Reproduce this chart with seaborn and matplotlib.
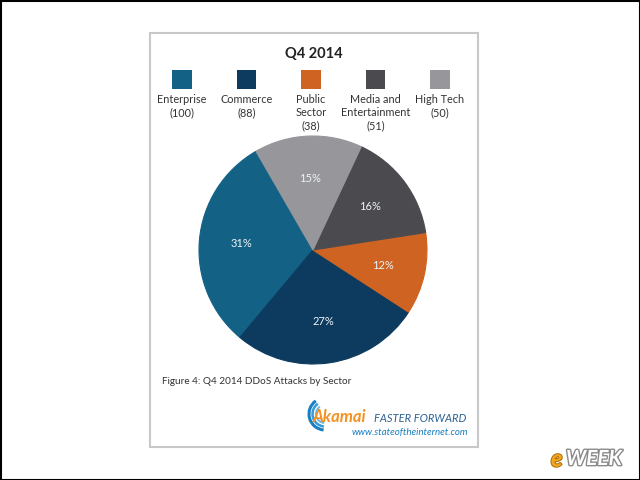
import numpy as np
import pandas as pd
import matplotlib
matplotlib.use("Agg")
import matplotlib.pyplot as plt
import seaborn as sns
from matplotlib.patches import Rectangle, Arc
import matplotlib.patheffects as pe

# data
sectors = ["Enterprise", "Commerce", "Public\nSector", "Media and\nEntertainment", "High Tech"]
attacks = [100, 88, 38, 51, 50]
colors = ["#146186", "#0c3b5f", "#cf6321", "#4b4b4f", "#97979b"]

df = pd.DataFrame({"sector": sectors, "attacks": attacks})

sns.set_theme(style="white")
plt.rcParams["font.family"] = ["Lato", "DejaVu Sans"]

fig = plt.figure(figsize=(6.4, 4.8), dpi=100)
fig.patch.set_facecolor("white")

# overlay in pixel coordinates for the card, titles and logos
bg = fig.add_axes([0, 0, 1, 1])
bg.set_xlim(0, 640)
bg.set_ylim(480, 0)
bg.axis("off")
bg.add_patch(Rectangle((0.5, 0.5), 639, 479, fill=False, ec="black", lw=1.5))
bg.add_patch(Rectangle((150, 32.5), 327.5, 414, fill=False, ec="#c8c8c8", lw=1.5))

bg.text(314, 54, "Q4 2014", ha="center", va="center", fontsize=10.5,
        fontweight="bold", color="#222222")

# pie
ax = fig.add_axes([199 / 640, 1 - 364 / 480, 228 / 640, 228 / 480])
wedges, texts, autotexts = ax.pie(
    df["attacks"], colors=colors, startangle=120, counterclock=True,
    autopct="%.0f%%", pctdistance=0.63,
    wedgeprops={"linewidth": 0.8},
    textprops={"color": "#eef3f6", "fontsize": 8},
)
for w, c in zip(wedges, colors):
    w.set_edgecolor(c)
ax.set_xlim(-1, 1)
ax.set_ylim(-1, 1)
ax.set_aspect("equal")

# legend row: square above multi-line label
lg = fig.add_axes([149.75 / 640, 1 - 130 / 480, 322.5 / 640, 60 / 480])
pos = np.arange(len(sectors))
sns.scatterplot(x=pos, y=[79.5] * len(pos), hue=df["sector"], palette=colors,
                marker="s", s=205, linewidth=0, legend=False, ax=lg)
lg.set_xlim(-0.5, len(sectors) - 0.5)
lg.set_ylim(130, 70)
lg.axis("off")
for i, (name, n) in enumerate(zip(sectors, attacks)):
    lg.text(i, 94, f"{name}\n({n})", ha="center", va="top", fontsize=7.8,
            color="#333333", linespacing=1.22)

# caption
bg.text(162, 381, "Figure 4: Q4 2014 DDoS Attacks by Sector", ha="left",
        va="center", fontsize=7.2, color="#333333")

# Akamai logo
for r, c, lw in [(16, "#1a7fc2", 2.2), (12.5, "#3a9ad6", 1.8), (9, "#6db6e3", 1.4)]:
    bg.add_patch(Arc((325, 414), 2 * r, 2 * r, theta1=95, theta2=235, color=c, lw=lw))
bg.text(313, 417, "Akamai", ha="left", va="center", fontsize=12, fontweight="bold",
        fontstyle="italic", color="#f39222")
bg.text(374, 418, "FASTER FORWARD", ha="left", va="center", fontsize=8,
        fontstyle="italic", color="#2e6193")
bg.text(468, 432, "www.stateoftheinternet.com", ha="right", va="center", fontsize=7,
        fontstyle="italic", color="#1a7fc2")

# eWEEK badge
bg.text(551, 459, "e", ha="left", va="center", fontsize=17, fontweight="bold",
        fontstyle="italic", color="#f2a81d",
        path_effects=[pe.withStroke(linewidth=1.5, foreground="#b07010")])
bg.text(566, 459, "WEEK", ha="left", va="center", fontsize=15, fontweight="bold",
        fontstyle="italic", color="white",
        path_effects=[pe.withStroke(linewidth=2, foreground="#8a8a8a")])

fig.savefig("out.png", dpi=100)
